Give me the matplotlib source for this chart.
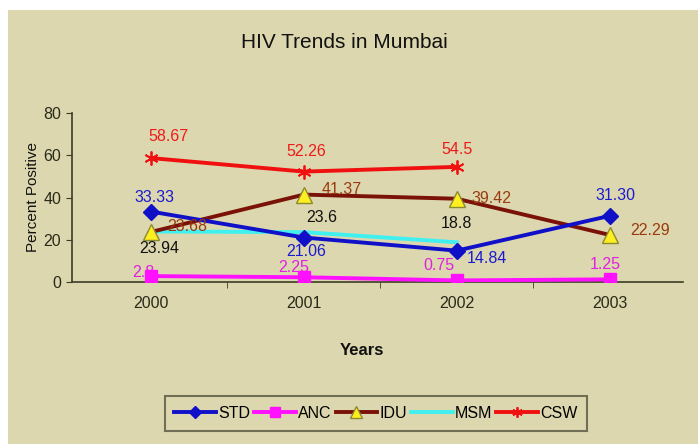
import matplotlib.pyplot as plt
from matplotlib.patches import Rectangle

years = ["2000", "2001", "2002", "2003"]
std = [33.33, 21.06, 14.84, 31.30]
anc = [2.8, 2.25, 0.75, 1.25]
idu = [23.68, 41.37, 39.42, 22.29]
msm = [23.94, 23.6, 18.8]
csw = [58.67, 52.26, 54.5]

anc_labels = ["2.8", "2.25", "0.75", "1.25"]

plt.rcParams['font.family'] = ['Liberation Sans', 'DejaVu Sans']

BG = "#dcd7ae"
AXC = "#3d3b25"

fig = plt.figure(figsize=(6.98, 4.44), dpi=100)
fig.patch.set_facecolor("white")
fig.patches.append(Rectangle((8 / 698, 0), 1, 434 / 444, transform=fig.transFigure,
                             facecolor=BG, edgecolor="none", zorder=-10))

ax = fig.add_axes([71.5 / 698, 162 / 444, 611.5 / 698, 169 / 444])
ax.set_facecolor(BG)
x = list(range(len(years)))

ax.plot(x, std, color="#1010c8", lw=2.8, marker="D", ms=8, label="STD", zorder=4)
ax.plot(x, anc, color="#ff10ff", lw=2.8, marker="s", ms=9, label="ANC", zorder=4)
ax.plot(x, idu, color="#7a1208", lw=2.8, marker="^", ms=11, mfc="#ffee20",
        mec="#8a8a30", label="IDU", zorder=3)
ax.plot(x[:3], msm, color="#40f0f0", lw=2.8, label="MSM", zorder=2)
ax.plot(x[:3], csw, color="#f01010", lw=2.8, marker=(6, 2, 0), ms=10, mew=1.3,
        label="CSW", zorder=3)

ax.set_xlim(-0.52, 3.48)
ax.set_ylim(0, 80)
ax.set_yticks([0, 20, 40, 60, 80])
ax.set_xticks(x)
ax.set_xticklabels(years)
ax.set_xticks([0.5, 1.5, 2.5], minor=True)
ax.tick_params(axis="x", which="major", length=0, pad=10, labelsize=11.5, colors="#2a2a1a")
ax.tick_params(axis="x", which="minor", length=4, direction="out", color=AXC)
ax.tick_params(axis="y", length=4, direction="out", color=AXC, labelsize=11.5,
               labelcolor="#2a2a1a")
for s in ["top", "right"]:
    ax.spines[s].set_visible(False)
for s in ["left", "bottom"]:
    ax.spines[s].set_color(AXC)
    ax.spines[s].set_linewidth(1.2)

fs = 11.5


def lab(xi, yi, txt, dx, dy, color):
    ax.annotate(txt, (xi, yi), xytext=(dx, -dy), textcoords="offset pixels",
                ha="center", va="center", fontsize=fs, color=color, zorder=5)


# STD labels
std_off = [(3, -14), (2, 14), (30, 8), (6, -20)]
for i, v in enumerate(std):
    lab(i, v, f"{v:.2f}", *std_off[i], "#1a1ad0")
# ANC labels (drawn under the markers)
anc_off = [(-8, -4), (-10, -10), (-18, -15), (-4, -15)]
for i, v in enumerate(anc):
    ax.annotate(anc_labels[i], (i, v), xytext=(anc_off[i][0], -anc_off[i][1]),
                textcoords="offset pixels", ha="center", va="center",
                fontsize=fs, color="#e020e0", zorder=1)
# IDU labels
idu_off = [(36, -5), (38, -5), (35, 0), (40, -4)]
for i, v in enumerate(idu):
    lab(i, v, f"{v:g}", *idu_off[i], "#9a3a10")
# MSM labels
msm_off = [(8, 17), (18, -15), (0, -19)]
for i, v in enumerate(msm):
    lab(i, v, f"{v:g}", *msm_off[i], "#111111")
# CSW labels
csw_off = [(17, -22), (2, -20), (0, -17)]
for i, v in enumerate(csw):
    lab(i, v, f"{v:g}", *csw_off[i], "#ee1a1a")

fig.text(344 / 698, 1 - 43 / 444, "HIV Trends in Mumbai", ha="center", va="center",
         fontsize=15, color="#111111")
fig.text(362 / 698, 1 - 350 / 444, "Years", ha="center", va="center",
         fontsize=12, fontweight="bold", color="#111111")
fig.text(33 / 698, 1 - 197 / 444, "Percent Positive", ha="center", va="center",
         rotation=90, fontsize=11, color="#111111")

leg = fig.legend(loc="center", bbox_to_anchor=(376 / 698, 1 - 413.5 / 444), ncol=5,
                 frameon=True, fontsize=11.5, handlelength=2.6, handletextpad=0.15,
                 columnspacing=0.25, borderpad=0.6, fancybox=False, markerscale=0.75)
leg.get_frame().set_facecolor(BG)
leg.get_frame().set_edgecolor("#555540")
leg.get_frame().set_linewidth(1.5)

fig.savefig("out.png", dpi=100, facecolor=fig.get_facecolor())
